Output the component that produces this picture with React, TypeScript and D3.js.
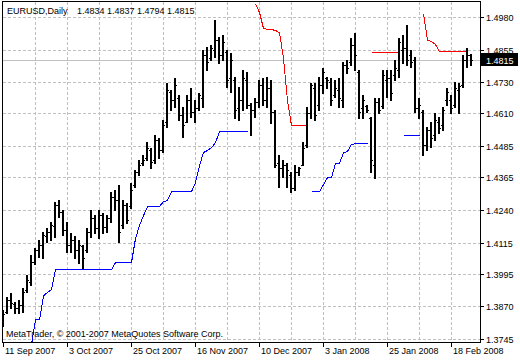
import * as d3 from "d3";
import * as React from "react";

const dateLabels = ["11 Sep 2007", "3 Oct 2007", "25 Oct 2007", "16 Nov 2007", "10 Dec 2007", "3 Jan 2008", "25 Jan 2008", "18 Feb 2008"];
const dateBars = [0, 16, 32, 48, 64, 80, 96, 112];
const priceLabels = [1.4980, 1.4855, 1.4730, 1.4610, 1.4485, 1.4365, 1.4240, 1.4115, 1.3995, 1.3870, 1.3745];

const opens = [
    1.3810, 1.3848, 1.3894, 1.3879, 1.3864, 1.3875, 1.3933, 1.3963, 1.4040, 1.4086,
    1.4105, 1.4140, 1.4155, 1.4178, 1.4259, 1.4232, 1.4163, 1.4105, 1.4124, 1.4086,
    1.4101, 1.4086, 1.4155, 1.4209, 1.4170, 1.4220, 1.4174, 1.4209, 1.4289, 1.4278,
    1.4182, 1.4259, 1.4255, 1.4335, 1.4385, 1.4420, 1.4439, 1.4470, 1.4431, 1.4508,
    1.4470, 1.4577, 1.4692, 1.4661, 1.4669, 1.4604, 1.4577, 1.4661, 1.4615, 1.4631,
    1.4669, 1.4834, 1.4823, 1.4853, 1.4892, 1.4834, 1.4846, 1.4746, 1.4738, 1.4631,
    1.4661, 1.4738, 1.4642, 1.4623, 1.4654, 1.4719, 1.4661, 1.4707, 1.4615, 1.4420,
    1.4401, 1.4412, 1.4374, 1.4324, 1.4385, 1.4412, 1.4489, 1.4612, 1.4707, 1.4642,
    1.4719, 1.4746, 1.4730, 1.4681, 1.4700, 1.4661, 1.4796, 1.4807, 1.4872, 1.4769,
    1.4631, 1.4638, 1.4592, 1.4412, 1.4654, 1.4638, 1.4738, 1.4746, 1.4757, 1.4776,
    1.4853, 1.4861, 1.4834, 1.4815, 1.4631, 1.4615, 1.4489, 1.4546, 1.4527, 1.4577,
    1.4566, 1.4661, 1.4661, 1.4642, 1.4700, 1.4719, 1.4815, 1.4834,
];
const highs = [
    1.3856, 1.3906, 1.3921, 1.3887, 1.3894, 1.3940, 1.3990, 1.4067, 1.4094, 1.4124,
    1.4155, 1.4170, 1.4193, 1.4270, 1.4278, 1.4239, 1.4193, 1.4151, 1.4140, 1.4124,
    1.4105, 1.4170, 1.4239, 1.4220, 1.4239, 1.4228, 1.4220, 1.4308, 1.4316, 1.4335,
    1.4278, 1.4266, 1.4343, 1.4393, 1.4431, 1.4450, 1.4500, 1.4477, 1.4527, 1.4516,
    1.4585, 1.4727, 1.4700, 1.4746, 1.4681, 1.4635, 1.4681, 1.4707, 1.4661, 1.4688,
    1.4853, 1.4865, 1.4872, 1.4968, 1.4903, 1.4911, 1.4853, 1.4842, 1.4750, 1.4711,
    1.4776, 1.4769, 1.4650, 1.4669, 1.4738, 1.4746, 1.4750, 1.4738, 1.4623, 1.4450,
    1.4431, 1.4420, 1.4385, 1.4412, 1.4404, 1.4500, 1.4635, 1.4727, 1.4727, 1.4750,
    1.4784, 1.4750, 1.4746, 1.4738, 1.4746, 1.4807, 1.4815, 1.4899, 1.4918, 1.4776,
    1.4681, 1.4642, 1.4596, 1.4669, 1.4669, 1.4776, 1.4776, 1.4776, 1.4815, 1.4899,
    1.4911, 1.4949, 1.4853, 1.4826, 1.4669, 1.4623, 1.4558, 1.4577, 1.4612, 1.4596,
    1.4635, 1.4707, 1.4681, 1.4730, 1.4727, 1.4834, 1.4861, 1.4837,
];
const lows = [
    1.3794, 1.3844, 1.3864, 1.3844, 1.3844, 1.3848, 1.3925, 1.3952, 1.4032, 1.4059,
    1.4055, 1.4117, 1.4124, 1.4136, 1.4213, 1.4144, 1.4078, 1.4078, 1.4055, 1.4036,
    1.4017, 1.4078, 1.4136, 1.4151, 1.4132, 1.4151, 1.4155, 1.4193, 1.4239, 1.4117,
    1.4170, 1.4190, 1.4247, 1.4328, 1.4374, 1.4412, 1.4431, 1.4401, 1.4420, 1.4439,
    1.4462, 1.4558, 1.4623, 1.4635, 1.4585, 1.4519, 1.4577, 1.4596, 1.4577, 1.4623,
    1.4635, 1.4776, 1.4815, 1.4826, 1.4803, 1.4815, 1.4711, 1.4692, 1.4592, 1.4585,
    1.4623, 1.4631, 1.4527, 1.4596, 1.4635, 1.4642, 1.4635, 1.4573, 1.4404, 1.4328,
    1.4366, 1.4328, 1.4308, 1.4316, 1.4374, 1.4412, 1.4481, 1.4592, 1.4585, 1.4623,
    1.4688, 1.4707, 1.4642, 1.4673, 1.4635, 1.4635, 1.4765, 1.4796, 1.4776, 1.4592,
    1.4592, 1.4615, 1.4385, 1.4362, 1.4612, 1.4631, 1.4673, 1.4661, 1.4738, 1.4750,
    1.4803, 1.4796, 1.4788, 1.4615, 1.4592, 1.4450, 1.4470, 1.4481, 1.4508, 1.4535,
    1.4546, 1.4642, 1.4612, 1.4635, 1.4612, 1.4711, 1.4788, 1.4794,
];
const closes = [
    1.3840, 1.3894, 1.3883, 1.3864, 1.3875, 1.3925, 1.3971, 1.4040, 1.4086, 1.4105,
    1.4144, 1.4155, 1.4182, 1.4259, 1.4232, 1.4163, 1.4105, 1.4124, 1.4086, 1.4105,
    1.4055, 1.4155, 1.4209, 1.4170, 1.4220, 1.4174, 1.4209, 1.4289, 1.4278, 1.4155,
    1.4259, 1.4201, 1.4316, 1.4385, 1.4412, 1.4431, 1.4477, 1.4424, 1.4508, 1.4470,
    1.4566, 1.4700, 1.4661, 1.4719, 1.4604, 1.4566, 1.4661, 1.4615, 1.4631, 1.4681,
    1.4834, 1.4807, 1.4861, 1.4892, 1.4834, 1.4884, 1.4738, 1.4815, 1.4623, 1.4661,
    1.4746, 1.4642, 1.4623, 1.4654, 1.4719, 1.4661, 1.4707, 1.4615, 1.4412, 1.4401,
    1.4412, 1.4393, 1.4324, 1.4385, 1.4401, 1.4477, 1.4612, 1.4719, 1.4604, 1.4719,
    1.4769, 1.4738, 1.4661, 1.4707, 1.4669, 1.4796, 1.4784, 1.4872, 1.4834, 1.4615,
    1.4661, 1.4623, 1.4431, 1.4654, 1.4623, 1.4757, 1.4746, 1.4688, 1.4784, 1.4884,
    1.4861, 1.4815, 1.4807, 1.4631, 1.4642, 1.4489, 1.4546, 1.4516, 1.4585, 1.4554,
    1.4623, 1.4692, 1.4631, 1.4707, 1.4715, 1.4815, 1.4834, 1.4815,
];

// trailing stop: red above price, blue below; [first bar, values]
const redSegments: [number, number[]][] = [
    [63, [1.5033, 1.4999, 1.4938, 1.4934, 1.4934, 1.4930, 1.4922, 1.4823, 1.4661, 1.4566, 1.4566, 1.4566, 1.4566, 1.4566]],
    [92, [1.4846, 1.4846, 1.4846, 1.4846, 1.4846, 1.4846, 1.4846, 1.4846]],
    [105, [1.4995, 1.4892, 1.4888, 1.4876, 1.4849, 1.4849, 1.4849, 1.4849, 1.4849, 1.4849, 1.4849, 1.4849]],
];
const blueSegments: [number, number[]][] = [
    [7, [1.3725, 1.3821, 1.3821, 1.3913, 1.3925, 1.3936, 1.4013,
        1.4013, 1.4013, 1.4013, 1.4013, 1.4013, 1.4013, 1.4013, 1.4013, 1.4013, 1.4013, 1.4013, 1.4013, 1.4013, 1.4013,
        1.4040, 1.4040, 1.4040, 1.4040, 1.4040, 1.4132, 1.4182, 1.4220, 1.4255, 1.4255, 1.4255, 1.4255,
        1.4274, 1.4278, 1.4312, 1.4312, 1.4312, 1.4312, 1.4312, 1.4312,
        1.4347, 1.4412, 1.4462, 1.4470, 1.4481, 1.4500,
        1.4542, 1.4542, 1.4542, 1.4542, 1.4542, 1.4542, 1.4542, 1.4542]],
    [77, [1.4312, 1.4312, 1.4312, 1.4339, 1.4366, 1.4366, 1.4420, 1.4420, 1.4462, 1.4466, 1.4493, 1.4496, 1.4496, 1.4496, 1.4496]],
    [100, [1.4527, 1.4527, 1.4527, 1.4527, 1.4527]],
];

const symbol = "EURUSD,Daily";
const lastBar = "1.4834 1.4837 1.4794 1.4815";
const lastPrice = 1.4815;

const font = "'Liberation Sans', Arial, sans-serif";

export default function App() {
    const width = 520, height = 360;
    const plot = { left: 2, top: 1, right: 480, bottom: 342 };

    const x = d3.scaleLinear().domain([0, closes.length - 1]).range([3, 471]);
    const y = d3.scaleLinear().domain([1.3745, 1.4980]).range([339, 17]);
    const px = (i: number) => Math.round(x(i));
    const py = (v: number) => Math.round(y(v));

    const line = d3.line<[number, number]>().x(d => x(d[0]) + 0.5).y(d => y(d[1]) + 0.5);
    const segPath = (s: [number, number[]]) => line(s[1].map((v, k) => [s[0] + k, v] as [number, number])) || "";

    const gridX = d3.range(8, closes.length, 8);

    return (
        <svg width={width} height={height} style={{ position: "absolute", left: 0, top: 0, background: "#fff" }}
            fontFamily={font} fontSize={9}>
            <defs>
                <clipPath id="plotclip">
                    <rect x={plot.left + 1} y={plot.top + 1} width={plot.right - plot.left - 1} height={plot.bottom - plot.top - 1} />
                </clipPath>
            </defs>
            <rect width={width} height={height} fill="#fff" />

            <g stroke="#c0c0c0" strokeDasharray="3,2" shapeRendering="crispEdges">
                {priceLabels.map(v => (
                    <line key={v} x1={plot.left + 1} x2={plot.right} y1={py(v) + 0.5} y2={py(v) + 0.5} />
                ))}
                {gridX.map(i => (
                    <line key={i} x1={px(i) + 0.5} x2={px(i) + 0.5} y1={plot.top + 1} y2={plot.bottom} />
                ))}
            </g>
            <line x1={plot.left + 1} x2={plot.right} y1={py(lastPrice) + 0.5} y2={py(lastPrice) + 0.5}
                stroke="#c0c0c0" shapeRendering="crispEdges" />

            <g clipPath="url(#plotclip)" fill="none" strokeWidth={1} shapeRendering="crispEdges">
                {redSegments.map((s, k) => <path key={"r" + k} d={segPath(s)} stroke="#ff0000" />)}
                {blueSegments.map((s, k) => <path key={"b" + k} d={segPath(s)} stroke="#0000ff" />)}
            </g>

            <g fill="#000" shapeRendering="crispEdges" clipPath="url(#plotclip)">
                {closes.map((c, i) => {
                    const X = px(i);
                    const top = py(highs[i]);
                    const bot = py(lows[i]);
                    return (
                        <g key={i}>
                            <rect x={X - 1} y={top} width={2} height={bot - top + 1} />
                            <rect x={X - 2} y={py(opens[i])} width={1} height={1} />
                            <rect x={X + 1} y={py(c)} width={1} height={1} />
                        </g>
                    );
                })}
            </g>

            <text x={7} y={14} fill="#000">{symbol}</text>
            <text x={77} y={14} fill="#000">{lastBar}</text>
            <text x={6} y={337} fill="#000">MetaTrader, © 2001-2007 MetaQuotes Software Corp.</text>

            <rect x={plot.left + 0.5} y={plot.top + 0.5} width={plot.right - plot.left} height={plot.bottom - plot.top}
                fill="none" stroke="#000" shapeRendering="crispEdges" />

            <g shapeRendering="crispEdges" stroke="#000">
                {priceLabels.map(v => (
                    <line key={v} x1={plot.right} x2={plot.right + 4} y1={py(v) + 0.5} y2={py(v) + 0.5} />
                ))}
                {dateBars.map(i => (
                    <line key={i} x1={px(i) + 0.5} x2={px(i) + 0.5} y1={plot.bottom} y2={plot.bottom + 5} />
                ))}
            </g>
            <g fill="#000">
                {priceLabels.map(v => (
                    <text key={v} x={plot.right + 6} y={py(v) + 3.5}>{v.toFixed(4)}</text>
                ))}
                {dateBars.map((i, k) => (
                    <text key={i} x={px(i) + 2} y={354}>{dateLabels[k]}</text>
                ))}
            </g>
            <rect x={plot.right + 1} y={py(lastPrice) - 7} width={37} height={13} fill="#000" />
            <text x={plot.right + 6} y={py(lastPrice) + 3.5} fill="#fff">{lastPrice.toFixed(4)}</text>
        </svg>
    );
}
